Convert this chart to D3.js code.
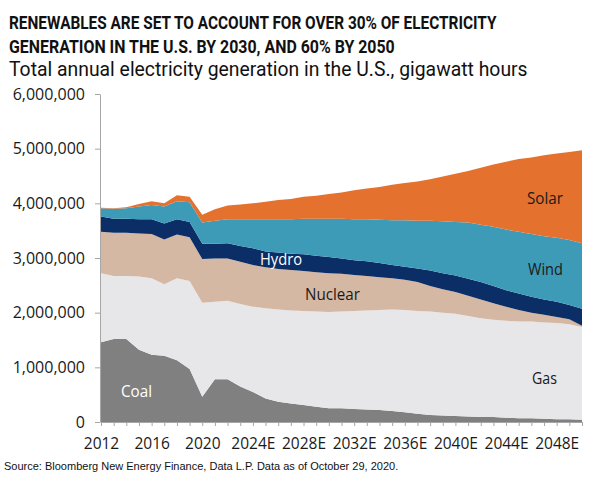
<!DOCTYPE html>
<html>
<head>
<meta charset="utf-8">
<script src="https://cdn.jsdelivr.net/npm/d3@7"></script>
<style>
  body { margin: 0; background: #fff; }
  svg { display: block; }
  .axis path, .axis line { stroke: #a6a6a6; }
  .axis text { font-family: "Open Sans", sans-serif; fill: #1a1a1a; }
</style>
</head>
<body>
<div class="container"></div>
<script>
// values, gigawatt hours
const years = d3.range(2012, 2051);

const coal = [1460000, 1520000, 1520000, 1320000, 1230000, 1210000, 1130000, 970000, 460000, 780000,
              780000, 650000, 550000, 430000, 370000, 340000, 310000, 280000, 250000, 250000,
              240000, 230000, 220000, 200000, 180000, 150000, 130000, 120000, 110000, 100000,
              90000, 90000, 80000, 70000, 70000, 60000, 50000, 50000, 40000];
const gas = [1260000, 1150000, 1150000, 1340000, 1400000, 1310000, 1500000, 1610000, 1720000, 1420000,
             1440000, 1510000, 1560000, 1650000, 1690000, 1700000, 1720000, 1740000, 1760000, 1770000,
             1790000, 1810000, 1830000, 1860000, 1870000, 1880000, 1890000, 1880000, 1870000, 1840000,
             1810000, 1780000, 1770000, 1770000, 1770000, 1760000, 1760000, 1740000, 1700000];
const nuclear = [760000, 790000, 790000, 790000, 810000, 820000, 800000, 800000, 800000, 790000,
                 770000, 770000, 760000, 750000, 740000, 740000, 730000, 720000, 710000, 690000,
                 660000, 630000, 600000, 570000, 550000, 530000, 470000, 430000, 400000, 370000,
                 340000, 300000, 260000, 210000, 160000, 140000, 110000, 90000, 20000];
const hydro = [280000, 260000, 260000, 260000, 270000, 290000, 280000, 280000, 280000, 270000,
               280000, 290000, 310000, 290000, 300000, 300000, 310000, 300000, 300000, 280000,
               270000, 270000, 260000, 240000, 240000, 250000, 280000, 290000, 300000, 310000,
               320000, 320000, 300000, 300000, 290000, 280000, 280000, 260000, 310000];
const wind = [150000, 180000, 190000, 230000, 260000, 310000, 330000, 360000, 390000, 420000,
              440000, 490000, 530000, 590000, 610000, 630000, 650000, 680000, 700000, 730000,
              750000, 770000, 790000, 820000, 850000, 870000, 910000, 950000, 980000, 1030000,
              1050000, 1080000, 1110000, 1130000, 1150000, 1160000, 1170000, 1190000, 1200000];
const solar = [10000, 10000, 20000, 50000, 70000, 60000, 110000, 100000, 140000, 210000,
               250000, 270000, 290000, 320000, 350000, 370000, 400000, 420000, 450000, 480000,
               530000, 560000, 600000, 650000, 680000, 720000, 760000, 820000, 880000, 940000,
               1040000, 1140000, 1240000, 1330000, 1400000, 1480000, 1540000, 1610000, 1700000];

const sources = ["Coal", "Gas", "Nuclear", "Hydro", "Wind", "Solar"];
const series = [coal, gas, nuclear, hydro, wind, solar];
const colors = ["#808080", "#e7e6e8", "#d5b8a3", "#0b2e67", "#3e9bb7", "#e4722e"];

const yTicks = [0, 1000000, 2000000, 3000000, 4000000, 5000000, 6000000];
const xTickLabels = ["2012", "2016", "2020", "2024E", "2028E", "2032E", "2036E", "2040E", "2044E", "2048E"];

const width = 594, height = 489;

const svg = d3.select(".container")
              .append("svg")
              .attr("width", width)
              .attr("height", height);

const x = d3.scaleLinear()
            .domain([2012, 2050])
            .range([101, 582]);

const y = d3.scaleLinear()
            .domain([0, 6000000])
            .range([422, 94]);

const table = years.map((yr, i) => {
  let row = { year: yr };
  sources.forEach((s, j) => { row[s] = series[j][i]; });
  return row;
});

const stacked = d3.stack().keys(sources)(table);

const area = d3.area()
               .x(d => x(d.data.year))
               .y0(d => y(d[0]))
               .y1(d => y(d[1]));

svg.append("g")
   .selectAll("path")
   .data(stacked)
   .join("path")
   .attr("fill", (d, i) => colors[i])
   .attr("d", area);

// axes
const yAxis = d3.axisLeft(y)
                .tickValues(yTicks)
                .tickSize(5)
                .tickSizeOuter(0)
                .tickPadding(10)
                .tickFormat(d3.format(","));

svg.append("g")
   .attr("class", "axis")
   .attr("transform", "translate(100,0)")
   .call(yAxis)
   .selectAll("text")
   .attr("font-size", 16);

const xAxis = d3.axisBottom(x)
                .tickValues(years)
                .tickSize(4)
                .tickSizeOuter(0)
                .tickPadding(12)
                .tickFormat(d => (d - 2012) % 4 === 0 ? xTickLabels[(d - 2012) / 4] : "");

svg.append("g")
   .attr("class", "axis")
   .attr("transform", "translate(0,422)")
   .call(xAxis)
   .selectAll("text")
   .attr("font-size", 15.5);

svg.selectAll(".axis .domain").attr("stroke", "#a6a6a6");

// text squeezed to the reference's narrow face
function label(txt, lx, ly, len, size, weight, color, family) {
  let t = svg.append("text")
             .attr("font-family", family || "'Open Sans', sans-serif")
             .attr("font-size", size)
             .attr("font-weight", weight)
             .attr("fill", color)
             .text(txt);
  let k = len / t.node().getComputedTextLength();
  t.attr("transform", `translate(${lx},${ly}) scale(${k},1)`);
}

label("RENEWABLES ARE SET TO ACCOUNT FOR OVER 30% OF ELECTRICITY", 9, 29.3, 488, 18.5, "bold", "#111", "Roboto, sans-serif");
label("GENERATION IN THE U.S. BY 2030, AND 60% BY 2050", 9, 52.5, 386, 18.5, "bold", "#111", "Roboto, sans-serif");
label("Total annual electricity generation in the U.S., gigawatt hours", 9, 76.3, 519, 20, "normal", "#111", "Roboto, sans-serif");

// series labels
label("Coal", 121, 396.5, 31, 16.5, "normal", "#fff");
label("Gas", 532, 384, 25, 16.5, "normal", "#1a1a1a");
label("Nuclear", 305, 300, 55, 16.5, "normal", "#1a1a1a");
label("Hydro", 260, 264.5, 42, 16.5, "normal", "#fff");
label("Wind", 528, 275, 35, 16.5, "normal", "#1a1a1a");
label("Solar", 527, 204.3, 36, 16.5, "normal", "#1a1a1a");

svg.append("text")
   .attr("x", 4)
   .attr("y", 469.5)
   .attr("font-family", "'Liberation Sans', Arial, sans-serif")
   .attr("font-size", 11)
   .attr("fill", "#111")
   .text("Source: Bloomberg New Energy Finance, Data L.P. Data as of October 29, 2020.");
</script>
</body>
</html>
